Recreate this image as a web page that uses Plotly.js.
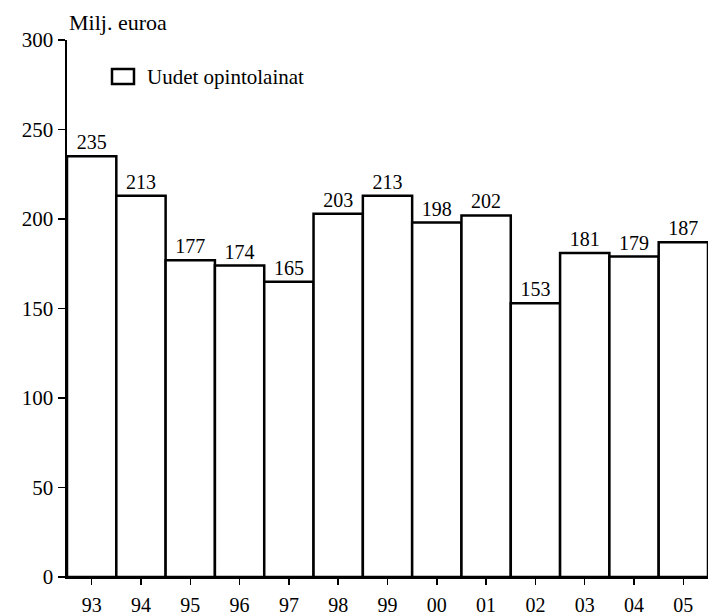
<!DOCTYPE html>
<html>
<head>
<meta charset="utf-8">
<script src="https://cdn.plot.ly/plotly-3.0.1.min.js"></script>
<style>
html,body{margin:0;padding:0;background:#fff;}
#chart{width:713px;height:616px;}
</style>
</head>
<body>
<div id="chart"></div>
<script>
var years = ['93','94','95','96','97','98','99','00','01','02','03','04','05'];
var loans = [235, 213, 177, 174, 165, 203, 213, 198, 202, 153, 181, 179, 187];
var seriesName = 'Uudet opintolainat';
var unitLabel = 'Milj. euroa';
var yTicks = [0, 50, 100, 150, 200, 250, 300];

var FONT = 'Liberation Serif, Times New Roman, serif';

var trace = {
  type: 'bar',
  x: years,
  y: loans,
  name: seriesName,
  text: loans.map(String),
  textposition: 'outside',
  textfont: {family: FONT, size: 20, color: '#000'},
  cliponaxis: false,
  marker: {color: '#fff', line: {color: '#000', width: 2.5}},
  hoverinfo: 'skip'
};

var layout = {
  width: 713, height: 616,
  margin: {l: 67, r: 5, t: 40, b: 39},
  paper_bgcolor: '#fff', plot_bgcolor: '#fff',
  showlegend: false,
  bargap: 0,
  font: {family: FONT, size: 20, color: '#000'},
  xaxis: {
    type: 'category', range: [-0.5, 12.5],
    showline: true, linecolor: '#000', linewidth: 2,
    ticks: 'outside', ticklen: 6, tickwidth: 1.5, tickcolor: '#000',
    ticklabelstandoff: 3,
    showgrid: false, zeroline: false,
    tickfont: {family: FONT, size: 20, color: '#000'}
  },
  yaxis: {
    range: [0, 300], tickvals: yTicks, ticktext: yTicks.map(String),
    showline: true, linecolor: '#000', linewidth: 2.5,
    ticks: 'outside', ticklen: 7, tickwidth: 1.5, tickcolor: '#000',
    showgrid: false, zeroline: false,
    tickfont: {family: FONT, size: 21, color: '#000'}
  },
  shapes: [
    {type: 'rect', xref: 'paper', yref: 'paper', x0: 0.0702, x1: 0.1045, y0: 0.918, y1: 0.946,
     line: {color: '#000', width: 2.5}, fillcolor: '#fff'}
  ],
  annotations: [
    {xref: 'paper', yref: 'paper', x: 0.1217, y: 0.932, xanchor: 'left', yanchor: 'middle',
     text: seriesName, showarrow: false, font: {family: FONT, size: 21, color: '#000'}},
    {xref: 'paper', yref: 'paper', x: 0.0, y: 1.0, yshift: 18, xanchor: 'left', yanchor: 'middle',
     text: unitLabel, showarrow: false, font: {family: FONT, size: 22, color: '#000'}}
  ]
};

Plotly.newPlot('chart', [trace], layout, {staticPlot: true, displayModeBar: false});
</script>
</body>
</html>
